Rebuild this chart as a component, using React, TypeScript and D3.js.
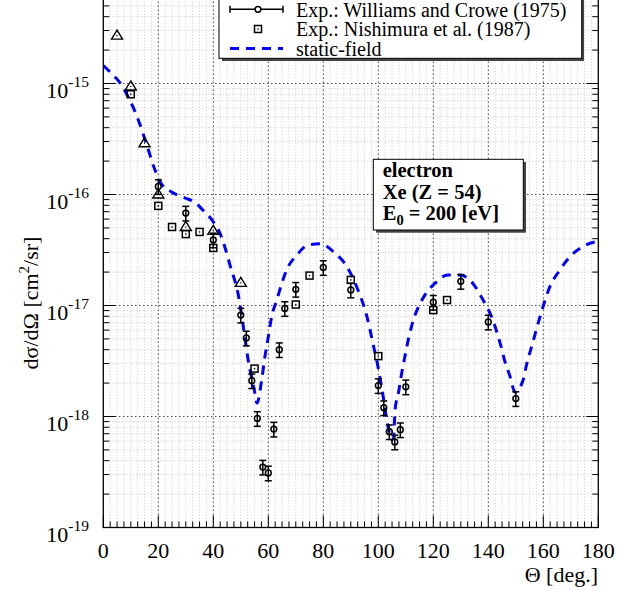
import React from "react";
import * as d3 from "d3";

// static-field theory curve (Theta in deg, dσ/dΩ in cm^2/sr)
const curveTheta = [0, 3, 6, 9, 11, 13, 16, 18.8, 21.3, 25, 29.7, 33.3, 36.3, 39.5, 42.4, 44.3, 46.1, 49.3, 50.9, 52.7, 54.9, 55.9, 57.6, 58.8, 60, 61.2, 63.1, 64.9, 66.7, 70.4, 74.4, 78.8, 84.3, 88.6, 92.6, 95.9, 98.1, 99.9, 101.8, 103.1, 104.9, 105.5, 106.1, 107.3, 108.5, 109.7, 110.9, 112.1, 116.3, 120.6, 125.3, 129.7, 134.4, 138.1, 141.3, 144.6, 146.1, 147.9, 149.7, 152.7, 154, 155.8, 158.8, 162.4, 166.1, 169.7, 174.4, 180];
const curveValue = [1.45e-15, 1.23e-15, 1.02e-15, 7.6e-16, 6.0e-16, 4.5e-16, 2.7e-16, 1.66e-16, 1.23e-16, 1.05e-16, 9.3e-17, 8.5e-17, 7.2e-17, 5.9e-17, 4.5e-17, 3.3e-17, 2.3e-17, 1.17e-17, 6.5e-18, 3.2e-18, 1.74e-18, 1.32e-18, 2.14e-18, 3.5e-18, 5.2e-18, 7.9e-18, 1.12e-17, 1.58e-17, 2.1e-17, 2.85e-17, 3.5e-17, 3.6e-17, 2.95e-17, 2.24e-17, 1.38e-17, 7.9e-18, 4.5e-18, 2.8e-18, 1.5e-18, 9.3e-19, 6.2e-19, 6.3e-19, 1.15e-18, 1.62e-18, 2.45e-18, 3.5e-18, 4.9e-18, 6.5e-18, 1.17e-17, 1.58e-17, 1.88e-17, 1.88e-17, 1.58e-17, 1.12e-17, 7.8e-18, 4.3e-18, 3.1e-18, 2.3e-18, 1.66e-18, 2.14e-18, 3.0e-18, 4.3e-18, 7.9e-18, 1.48e-17, 2.1e-17, 2.75e-17, 3.4e-17, 3.8e-17];

// Exp.: Williams and Crowe (1975)
const wcTheta = [20, 30, 40, 50, 52, 54, 56, 58, 60, 62, 64, 66, 70, 80, 90, 100, 102, 104, 106, 108, 110, 120, 130, 140, 150];
const wcValue = [1.18e-16, 6.8e-17, 3.9e-17, 8.2e-18, 5.1e-18, 2.1e-18, 9.6e-19, 3.5e-19, 3.1e-19, 7.7e-19, 4.0e-18, 9.4e-18, 1.4e-17, 2.2e-17, 1.38e-17, 1.9e-18, 1.2e-18, 7.3e-19, 5.9e-19, 7.6e-19, 1.85e-18, 1.07e-17, 1.65e-17, 7.1e-18, 1.45e-18];
const wcRelErr = [0.15, 0.15, 0.15, 0.15, 0.15, 0.15, 0.15, 0.15, 0.15, 0.15, 0.15, 0.15, 0.15, 0.15, 0.15, 0.15, 0.15, 0.15, 0.15, 0.15, 0.15, 0.15, 0.15, 0.15, 0.15];

// Exp.: Nishimura et al. (1987)
const nsTheta = [10, 20, 25, 30, 35, 40, 55, 70, 75, 90, 100, 120, 125];
const nsValue = [8.0e-16, 7.9e-17, 5.1e-17, 4.4e-17, 4.6e-17, 3.3e-17, 2.7e-18, 1.02e-17, 1.86e-17, 1.7e-17, 3.5e-18, 9.1e-18, 1.12e-17];

// third experimental set (triangles)
const triTheta = [5, 10, 15, 20, 30, 40, 50];
const triValue = [2.7e-15, 9.4e-16, 2.9e-16, 1.0e-16, 5.1e-17, 4.7e-17, 1.6e-17];

const xTickValues = [0, 20, 40, 60, 80, 100, 120, 140, 160, 180];
const yTickExponents = [-19, -18, -17, -16, -15];
const legendLabels = ["Exp.: Williams and Crowe (1975)", "Exp.: Nishimura et al. (1987)", "static-field"];

const W = 625;
const H = 590;
const PL = 103.3, PR = 598.3, PB = 527.5, PT = -10.3;
const SERIF = "Liberation Serif, Times New Roman, serif";

const x = d3.scaleLinear().domain([0, 180]).range([PL, PR]);
const y = d3.scaleLog().domain([1e-19, 7e-15]).range([PB, PT]);

const xMinor = d3.range(0, 180.001, 2.5);
const yMinor: number[] = [];
for (let e = -19; e <= -15; e++) {
  for (let m = 2; m <= 9; m++) {
    const v = m * Math.pow(10, e);
    if (v <= 7e-15) yMinor.push(v);
  }
}

export default function App() {
  const line = d3
    .line<number>()
    .x((_, i) => x(curveTheta[i]))
    .y((d) => y(d))
    .curve(d3.curveMonotoneX);
  const curvePath = line(curveValue) || "";

  return (
    <svg
      width={W}
      height={H}
      style={{ position: "absolute", left: 0, top: 0, background: "#fff", fontFamily: SERIF }}
    >
      <defs>
        <clipPath id="plotclip">
          <rect x={PL} y={PT} width={PR - PL} height={PB - PT} />
        </clipPath>
      </defs>
      <rect x={0} y={0} width={W} height={H} fill="#fff" />

      {/* minor grid */}
      <g stroke="#c8c8c8" strokeWidth={1} strokeDasharray="1 2">
        {xMinor.map((t, i) => (
          <line key={"mgx" + i} x1={x(t)} x2={x(t)} y1={PT} y2={PB} />
        ))}
        {yMinor.map((v, i) => (
          <line key={"mgy" + i} x1={PL} x2={PR} y1={y(v)} y2={y(v)} />
        ))}
      </g>
      {/* major grid */}
      <g stroke="#000" strokeWidth={1} strokeDasharray="1 3">
        {xTickValues.slice(1, -1).map((t) => (
          <line key={"gx" + t} x1={x(t)} x2={x(t)} y1={PT} y2={PB} />
        ))}
        {yTickExponents.slice(1).map((e) => (
          <line key={"gy" + e} x1={PL} x2={PR} y1={y(Math.pow(10, e))} y2={y(Math.pow(10, e))} />
        ))}
      </g>

      {/* ticks */}
      <g stroke="#000" strokeWidth={1}>
        {xMinor.map((t, i) => {
          const major = xTickValues.includes(t);
          const len = major ? 12 : 6;
          return <line key={"tx" + i} x1={x(t)} x2={x(t)} y1={PB} y2={PB - len} />;
        })}
        {yMinor.map((v, i) => (
          <g key={"ty" + i}>
            <line x1={PL} x2={PL + 6} y1={y(v)} y2={y(v)} />
            <line x1={PR} x2={PR - 6} y1={y(v)} y2={y(v)} />
          </g>
        ))}
        {yTickExponents.map((e) => (
          <g key={"tyM" + e}>
            <line x1={PL} x2={PL + 12} y1={y(Math.pow(10, e))} y2={y(Math.pow(10, e))} />
            <line x1={PR} x2={PR - 12} y1={y(Math.pow(10, e))} y2={y(Math.pow(10, e))} />
          </g>
        ))}
      </g>

      {/* theory curve */}
      <g clipPath="url(#plotclip)">
        <path d={curvePath} fill="none" stroke="#0000ff" strokeWidth={3} strokeDasharray="9 7" />
      </g>

      {/* triangles */}
      <g stroke="#000" strokeWidth={1.4} fill="none">
        {triTheta.map((t, i) => {
          const cx = x(t), cy = y(triValue[i]);
          return (
            <g key={"tri" + i}>
              <path d={`M${cx},${cy - 5.5}L${cx + 5.5},${cy + 3.5}L${cx - 5.5},${cy + 3.5}Z`} />
              <rect x={cx - 0.6} y={cy - 0.6} width={1.2} height={1.2} fill="#000" stroke="none" />
            </g>
          );
        })}
      </g>

      {/* squares */}
      <g stroke="#000" strokeWidth={1.5} fill="none">
        {nsTheta.map((t, i) => {
          const cx = x(t), cy = y(nsValue[i]);
          return (
            <g key={"sq" + i}>
              <rect x={cx - 3.5} y={cy - 3.5} width={7} height={7} />
              <rect x={cx - 0.7} y={cy - 0.7} width={1.4} height={1.4} fill="#000" stroke="none" />
            </g>
          );
        })}
      </g>

      {/* circles with error bars */}
      <g stroke="#000" strokeWidth={1.5} fill="none">
        {wcTheta.map((t, i) => {
          const cx = x(t), cy = y(wcValue[i]);
          const yl = y(wcValue[i] * (1 - wcRelErr[i]));
          const yh = y(wcValue[i] * (1 + wcRelErr[i]));
          return (
            <g key={"wc" + i}>
              <line x1={cx} x2={cx} y1={yl} y2={yh} />
              <line x1={cx - 3.5} x2={cx + 3.5} y1={yl} y2={yl} />
              <line x1={cx - 3.5} x2={cx + 3.5} y1={yh} y2={yh} />
              <circle cx={cx} cy={cy} r={2.9} />
            </g>
          );
        })}
      </g>

      {/* frame */}
      <rect x={PL} y={PT} width={PR - PL} height={PB - PT} fill="none" stroke="#000" strokeWidth={1.3} />

      {/* x tick labels */}
      <g fontSize={22} textAnchor="middle" fill="#000">
        {xTickValues.map((t) => (
          <text key={"xl" + t} x={x(t)} y={558}>
            {t}
          </text>
        ))}
      </g>
      <text x={598} y={582} fontSize={22} textAnchor="end">
        Θ [deg.]
      </text>

      {/* y tick labels */}
      <g fontSize={22} textAnchor="end" fill="#000">
        {yTickExponents.map((e) => {
          const ty = y(Math.pow(10, e));
          return (
            <text key={"yl" + e} x={89} y={ty + 14}>
              10
              <tspan dy={-11} fontSize={15.5}>
                {"-" + Math.abs(e)}
              </tspan>
            </text>
          );
        })}
      </g>
      <text transform="translate(38,303) rotate(-90)" fontSize={22} textAnchor="middle">
        dσ/dΩ [cm
        <tspan dy={-9} fontSize={15}>2</tspan>
        <tspan dy={9}>/sr]</tspan>
      </text>

      {/* legend */}
      <rect x={222} y={-30} width={362} height={91} fill="#444" />
      <rect x={219} y={-30} width={362.7} height={88.3} fill="#fff" stroke="#000" strokeWidth={1} />
      <g stroke="#000" strokeWidth={1.5} fill="none">
        <line x1={230} x2={283} y1={9.3} y2={9.3} />
        <line x1={230} x2={230} y1={5.8} y2={12.8} />
        <line x1={283} x2={283} y1={5.8} y2={12.8} />
        <circle cx={258} cy={9.3} r={2.9} fill="#fff" />
        <rect x={254.5} y={25.5} width={7} height={7} />
        <rect x={257.3} y={28.3} width={1.4} height={1.4} fill="#000" stroke="none" />
      </g>
      <line x1={230} x2={283} y1={48.5} y2={48.5} stroke="#0000ff" strokeWidth={3} strokeDasharray="9 7" />
      <g fontSize={20} fill="#000">
        {legendLabels.map((l, i) => (
          <text key={"lg" + i} x={296} y={16.5 + i * 19.6}>
            {l}
          </text>
        ))}
      </g>

      {/* info box */}
      <rect x={376} y={162} width={150} height={70.7} fill="#444" />
      <rect x={373.3} y={159.3} width={150} height={70.7} fill="#fff" stroke="#000" strokeWidth={1} />
      <g fontSize={20.5} fontWeight="bold" fill="#000">
        <text x={382.7} y={177}>electron</text>
        <text x={382.7} y={199}>Xe (Z = 54)</text>
        <text x={382.7} y={220}>
          E<tspan dy={4.5} fontSize={14.5}>0</tspan>
          <tspan dy={-4.5}> = 200 [eV]</tspan>
        </text>
      </g>
    </svg>
  );
}
